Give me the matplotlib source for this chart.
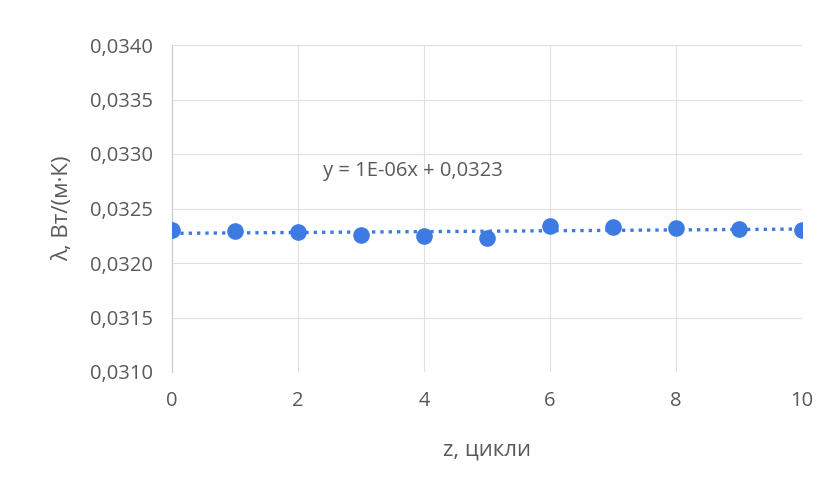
import numpy as np
import matplotlib.pyplot as plt
from matplotlib.ticker import FuncFormatter, MultipleLocator

plt.rcParams['font.family'] = ['Open Sans', 'DejaVu Sans']

cycles = [0, 1, 2, 3, 4, 5, 6, 7, 8, 9, 10]
lam = [0.03230, 0.03229, 0.03228, 0.03226, 0.03225, 0.03223,
       0.03234, 0.03233, 0.03232, 0.03231, 0.03230]
eq_label = "y = 1E-06x + 0,0323"

grey = '#595959'
blue = '#3d7be3'

fig = plt.figure(figsize=(8.4, 5.04), dpi=100)
ax = fig.add_axes([172 / 840, 1 - 372 / 504, 630 / 840, 327 / 504])

ax.scatter(cycles, lam, s=120, color=blue, zorder=3)

# linear trend line
k, b = np.polyfit(cycles, lam, 1)
xs = np.array([cycles[0], cycles[-1]])
ax.plot(xs, k * xs + b, linestyle=(0, (1, 1.5)), color=blue, lw=2.4, zorder=2)

ax.text(2.4, 0.03284, eq_label, color=grey, fontsize=14.5, va='center')

ax.set_xlim(0, 10)
ax.set_ylim(0.0310, 0.0340)
ax.xaxis.set_major_locator(MultipleLocator(2))
ax.yaxis.set_major_locator(MultipleLocator(0.0005))
ax.yaxis.set_major_formatter(FuncFormatter(lambda v, p: f"{v:.4f}".replace('.', ',')))

ax.grid(True, color='#e0e0e0', lw=0.8)
ax.set_axisbelow(True)
for s in ax.spines.values():
    s.set_visible(False)
ax.spines['left'].set_visible(True)
ax.spines['left'].set_color('#c8c8c8')
ax.tick_params(length=0, colors=grey, labelsize=14.5, pad=14)

ax.set_xlabel('z, цикли', color=grey, fontsize=16, labelpad=20)
ax.set_ylabel('λ, Вт/(м·К)', color=grey, fontsize=16, labelpad=12)

fig.savefig('out.png', dpi=100)
